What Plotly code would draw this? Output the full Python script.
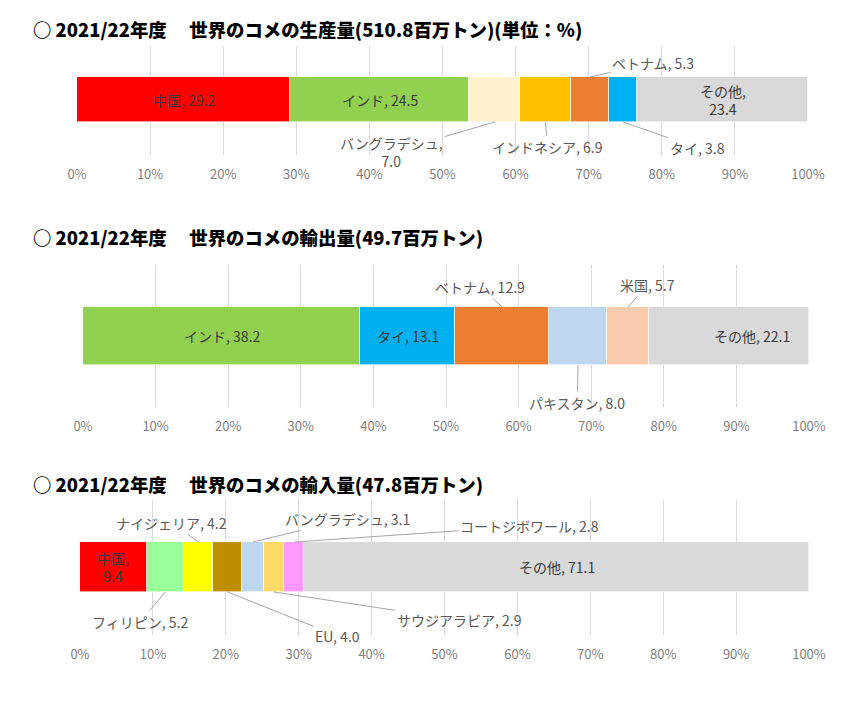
import plotly.graph_objects as go

# ---------------- data ----------------
prod_names = ["中国", "インド", "バングラデシュ", "インドネシア", "ベトナム", "タイ", "その他"]
prod_values = [29.2, 24.5, 7.0, 6.9, 5.3, 3.8, 23.4]
prod_colors = ["#FF0000", "#92D050", "#FFF2CC", "#FFC000", "#ED7D31", "#00B0F0", "#D9D9D9"]

exp_names = ["インド", "タイ", "ベトナム", "パキスタン", "米国", "その他"]
exp_values = [38.2, 13.1, 12.9, 8.0, 5.7, 22.1]
exp_colors = ["#92D050", "#00B0F0", "#ED7D31", "#BDD7EE", "#F8CBAD", "#D9D9D9"]

imp_names = ["中国", "フィリピン", "ナイジェリア", "EU", "バングラデシュ", "サウジアラビア", "コートジボワール", "その他"]
imp_values = [9.4, 5.2, 4.2, 4.0, 3.1, 2.9, 2.8, 71.1]
imp_colors = ["#FF0000", "#99FF99", "#FFFF00", "#BF8F00", "#BDD7EE", "#FFD966", "#FF99FF", "#D9D9D9"]

x_ticks = [0, 10, 20, 30, 40, 50, 60, 70, 80, 90, 100]
x_tick_labels = ["0%", "10%", "20%", "30%", "40%", "50%", "60%", "70%", "80%", "90%", "100%"]

titles = [
    "○ 2021/22年度　 世界のコメの生産量(510.8百万トン)(単位：%)",
    "○ 2021/22年度　 世界のコメの輸出量(49.7百万トン)",
    "○ 2021/22年度　 世界のコメの輸入量(47.8百万トン)",
]

# ---------------- layout config (pixels) ----------------
W, H = 864, 703
OFF = 8  # page body margin
FONT = "Noto Sans CJK JP"

# label placement: ("in", wrap, xshift) or ("out", ax, ay, side, wrap)
prod_lab = [("in", False, 0), ("in", False, 0), ("out", -103, 30, "b", True),
            ("out", 2, 25, "b", False), ("out", 63, -14, "t", False),
            ("out", 74, 26, "b", False), ("in", True, 0)]
exp_lab = [("in", False, 0), ("in", False, 0), ("out", -22, -20, "t", False),
           ("out", -1, 38, "b", False), ("out", 20, -22, "t", False), ("in", False, 23)]
imp_lab = [("in", True, 0), ("out", -25, 30, "b", False), ("out", -27, -19, "t", False),
           ("out", 110, 44, "b", False), ("out", 95, -23, "t", False),
           ("out", 185, 28, "b", False), ("out", 235, -16, "t", False), ("in", False, 0)]

panels = [
    dict(names=prod_names, values=prod_values, colors=prod_colors, labs=prod_lab,
         x0=77, x1=808, gt=46, gb=155, bt=77, bb=122, ty=29),
    dict(names=exp_names, values=exp_values, colors=exp_colors, labs=exp_lab,
         x0=83, x1=809, gt=265, gb=407, bt=307, bb=365, ty=237),
    dict(names=imp_names, values=imp_values, colors=imp_colors, labs=imp_lab,
         x0=80, x1=809, gt=500, gb=635, bt=542, bb=592, ty=484),
]


def fx(px):
    return (px - OFF) / W


def fy(py):
    return 1 - (py - OFF) / H


fig = go.Figure()
annotations = []

for i, p in enumerate(panels):
    n = "" if i == 0 else str(i + 1)
    xa, ya = "x" + n, "y" + n
    for name, val, col in zip(p["names"], p["values"], p["colors"]):
        fig.add_trace(go.Bar(
            x=[val], y=[0], orientation="h", width=2, name=name,
            marker=dict(color=col, line=dict(color="white", width=0.6)),
            xaxis=xa, yaxis=ya, hoverinfo="skip", showlegend=False,
        ))
    total = sum(p["values"])
    cum = 0.0
    for name, val, lab in zip(p["names"], p["values"], p["labs"]):
        center = (cum + val / 2) / total * 100
        cum += val
        if lab[0] == "in":
            wrap, xs = lab[1], lab[2]
            txt = f"{name},<br>{val:.1f}" if wrap else f"{name}, {val:.1f}"
            annotations.append(dict(
                x=center, y=0, xref=xa, yref=ya, text=txt, showarrow=False,
                xshift=xs, font=dict(family=FONT, size=14, color="#3A3A3A")))
        else:
            _, ax, ay, side, wrap = lab
            txt = f"{name},<br>{val:.1f}" if wrap else f"{name}, {val:.1f}"
            annotations.append(dict(
                x=center, y=(1 if side == "t" else -1), xref=xa, yref=ya,
                text=txt, showarrow=True, ax=ax, ay=ay, arrowhead=0,
                arrowwidth=1, arrowcolor="#A6A6A6", standoff=0, startstandoff=0,
                font=dict(family=FONT, size=14, color="#595959")))
    # title
    annotations.append(dict(
        x=fx(31), y=fy(p["ty"]), xref="paper", yref="paper",
        xanchor="left", yanchor="middle", showarrow=False, text=titles[i],
        font=dict(family=FONT, size=18.4, color="#000000", weight=900)))

    half = (p["bb"] - p["bt"]) / 2
    cen = (p["bt"] + p["bb"]) / 2
    lo = -(p["gb"] - cen) / half
    hi = (cen - p["gt"]) / half
    fig.update_layout(**{
        "xaxis" + n: dict(
            domain=[fx(p["x0"]), fx(p["x1"])], range=[0, 100], anchor=ya,
            tickvals=x_ticks, ticktext=x_tick_labels, showgrid=True,
            gridcolor="#D9D9D9", gridwidth=1, zeroline=False, showline=False,
            ticks="", ticklabelstandoff=10, automargin=False,
            tickfont=dict(family=FONT, size=13, color="#7F7F7F"), fixedrange=True),
        "yaxis" + n: dict(
            domain=[fy(p["gb"]), fy(p["gt"])], range=[lo, hi], anchor=xa,
            showgrid=False, zeroline=False, showticklabels=False, showline=False,
            automargin=False, fixedrange=True),
    })

fig.update_layout(
    width=W, height=H, margin=dict(l=0, r=0, t=0, b=0, pad=0, autoexpand=False),
    barmode="stack", barnorm="percent", bargap=0,
    paper_bgcolor="white", plot_bgcolor="white",
    annotations=annotations, showlegend=False,
)

fig.write_html("out.html")
